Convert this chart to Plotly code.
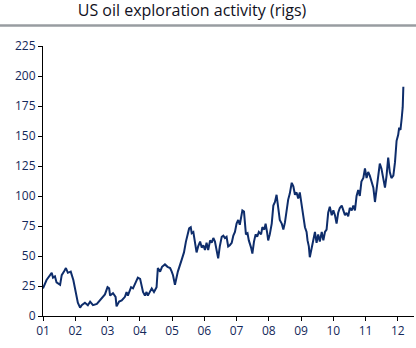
import plotly.graph_objects as go

# time (decimal years) and rig counts
years = [
    2001.00, 2001.11, 2001.27, 2001.31, 2001.37, 2001.42, 2001.53, 2001.58, 2001.65, 2001.71,
    2001.77, 2001.86, 2001.94, 2002.00, 2002.04, 2002.08, 2002.15, 2002.20, 2002.30, 2002.39,
    2002.46, 2002.55, 2002.67, 2002.77, 2002.86, 2002.92, 2003.00, 2003.05, 2003.08, 2003.17,
    2003.25, 2003.28, 2003.36, 2003.44, 2003.54, 2003.59, 2003.63, 2003.73, 2003.79, 2003.87,
    2003.94, 2004.01, 2004.06, 2004.10, 2004.16, 2004.21, 2004.25, 2004.37, 2004.44, 2004.52,
    2004.56, 2004.63, 2004.69, 2004.78, 2004.86, 2004.94, 2004.99, 2005.03, 2005.09, 2005.14,
    2005.18, 2005.30, 2005.37, 2005.43, 2005.47, 2005.53, 2005.58, 2005.61, 2005.66, 2005.71,
    2005.76, 2005.81, 2005.87, 2005.92, 2005.97, 2006.02, 2006.07, 2006.12, 2006.18, 2006.23,
    2006.28, 2006.33, 2006.38, 2006.43, 2006.48, 2006.54, 2006.59, 2006.64, 2006.69, 2006.74,
    2006.79, 2006.85, 2006.90, 2006.95, 2007.00, 2007.05, 2007.10, 2007.18, 2007.23, 2007.26,
    2007.29, 2007.34, 2007.38, 2007.45, 2007.49, 2007.54, 2007.59, 2007.64, 2007.69, 2007.76,
    2007.80, 2007.86, 2007.90, 2007.95, 2007.98, 2008.03, 2008.09, 2008.14, 2008.19, 2008.24,
    2008.29, 2008.34, 2008.40, 2008.45, 2008.50, 2008.55, 2008.60, 2008.65, 2008.71, 2008.76,
    2008.81, 2008.86, 2008.91, 2008.96, 2009.02, 2009.07, 2009.12, 2009.17, 2009.20, 2009.24,
    2009.27, 2009.33, 2009.38, 2009.43, 2009.48, 2009.53, 2009.58, 2009.64, 2009.69, 2009.74,
    2009.79, 2009.84, 2009.89, 2009.95, 2010.00, 2010.05, 2010.10, 2010.15, 2010.20, 2010.26,
    2010.31, 2010.36, 2010.41, 2010.46, 2010.51, 2010.57, 2010.62, 2010.67, 2010.72, 2010.77,
    2010.82, 2010.87, 2010.93, 2010.98, 2011.03, 2011.08, 2011.13, 2011.18, 2011.24, 2011.29,
    2011.34, 2011.39, 2011.44, 2011.49, 2011.55, 2011.60, 2011.65, 2011.70, 2011.75, 2011.80,
    2011.86, 2011.91, 2011.96, 2012.01, 2012.04, 2012.08, 2012.12, 2012.15, 2012.17,
]
rigs = [
    23, 30, 36, 32, 33, 28, 26, 34, 37, 40,
    36, 37, 30, 23, 17, 11, 7, 9, 11, 9,
    12, 9, 10, 13, 16, 18, 24, 23, 17, 19,
    16, 8, 12, 13, 16, 20, 17, 24, 23, 28,
    32, 31, 26, 20, 17, 20, 17, 23, 20, 24,
    40, 37, 41, 43, 41, 40, 37, 34, 26, 32,
    37, 47, 53, 62, 67, 73, 74, 69, 70, 59,
    53, 58, 62, 57, 59, 55, 61, 55, 63, 61,
    65, 62, 53, 48, 58, 66, 67, 65, 66, 58,
    59, 61, 67, 70, 77, 80, 76, 88, 87, 78,
    68, 69, 63, 57, 52, 62, 68, 66, 70, 68,
    74, 72, 77, 69, 63, 68, 77, 92, 95, 101,
    88, 80, 77, 72, 78, 88, 97, 102, 111, 108,
    101, 103, 98, 103, 94, 83, 74, 70, 63, 58,
    49, 57, 62, 70, 61, 68, 62, 70, 63, 70,
    72, 86, 91, 84, 88, 84, 77, 86, 90, 92,
    88, 84, 86, 83, 90, 88, 92, 88, 100, 105,
    100, 112, 115, 123, 115, 120, 117, 112, 107, 95,
    107, 117, 127, 123, 115, 107, 117, 132, 120, 115,
    117, 128, 146, 151, 157, 155, 165, 174, 191,
]

tick_years = [2001, 2002, 2003, 2004, 2005, 2006, 2007, 2008, 2009, 2010, 2011, 2012]
tick_labels = ["01", "02", "03", "04", "05", "06", "07", "08", "09", "10", "11", "12"]
y_ticks = [0, 25, 50, 75, 100, 125, 150, 175, 200, 225]

NAVY = "#0e2d6b"
TXT = "#14285a"
FONT = "Open Sans"

fig = go.Figure()
fig.add_trace(go.Scatter(x=years, y=rigs, mode="lines",
                         line=dict(color=NAVY, width=2), showlegend=False))

fig.update_layout(
    width=416, height=348,
    margin=dict(l=43, r=2, t=46, b=32),
    paper_bgcolor="white", plot_bgcolor="white",
    font=dict(family=FONT, size=12, color=TXT),
    title=dict(text="US oil exploration activity (rigs)",
               font=dict(family=FONT, size=16, color="#111122"),
               x=192 / 416, xanchor="center", xref="container",
               y=1 - 10 / 348, yanchor="middle", yref="container"),
    shapes=[dict(type="line", xref="paper", yref="paper",
                 x0=-43 / 371, x1=373 / 371, y0=(316 - 25.5) / 270, y1=(316 - 25.5) / 270,
                 line=dict(color="#989ca1", width=2.5))],
)
fig.update_xaxes(range=[2001, 2012.5], tickmode="array", tickvals=tick_years,
                 ticktext=tick_labels, showgrid=False, zeroline=False,
                 showline=True, linecolor="black", linewidth=1,
                 ticks="outside", ticklen=4, tickcolor="black",
                 tickfont=dict(family=FONT, size=12, color=TXT))
fig.update_yaxes(range=[0, 225], tickmode="array", tickvals=y_ticks,
                 showgrid=False, zeroline=False,
                 showline=True, linecolor="black", linewidth=1,
                 ticks="outside", ticklen=4, tickcolor="black",
                 tickfont=dict(family=FONT, size=12, color=TXT))

fig.write_html("out.html")
